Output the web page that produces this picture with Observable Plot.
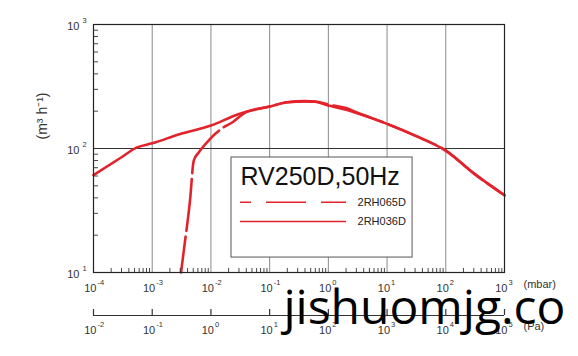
<!DOCTYPE html>
<html><head><meta charset="utf-8">
<script src="https://cdn.jsdelivr.net/npm/d3@7"></script>
<script src="https://cdn.jsdelivr.net/npm/@observablehq/plot@0.6"></script>
<style>body{margin:0;background:#fff}</style>
</head><body><div id="chart"></div>
<script>
// Pumping speed curves (mbar -> m3/h)
const solidP = [1e-4, 3e-4, 5.5e-4, 1e-3, 3e-3, 1e-2, 3e-2, 0.1, 0.2, 0.4, 0.6, 1, 2, 3, 10, 30, 100, 300, 1000];
const solidS = [61, 85, 102, 110, 131, 153, 190, 218, 236, 240, 238, 222, 205, 193, 158, 127, 96, 63, 42];
const dashP = [0.0031, 0.00345, 0.0044, 0.0051, 0.0062, 0.0098, 0.012, 0.016, 0.023, 0.04, 0.1, 0.2, 0.4, 0.6, 1, 2, 3, 10, 30, 100, 300, 1000];
const dashS = [10, 15, 38, 80, 93, 120, 132, 147, 162, 197, 218, 236, 241, 239, 226, 212, 196, 158, 127, 96, 63, 42];
const seriesNames = ["2RH065D", "2RH036D"];
const legendTitle = "RV250D,50Hz";
// Axis ticks (exponents)
const xExp = [-4, -3, -2, -1, 0, 1, 2, 3];
const yExp = [1, 2, 3];
const paExp = [-2, -1, 0, 1, 2, 3, 4, 5];
const xUnit = "(mbar)", paUnit = "(Pa)", yLabel = "(m³ h⁻¹)";
const watermark = "jishuomjg.co";
// Legend placement (data space)
const legendBox = {x1: 0.0224, x2: 27.2, y1: 13.2, y2: 84.6};
const legendLineX = [0.0319, 2.04];
const legendLabelX = 3.14;
const legendRowY = [36.9, 25.8];
const legendTitleY = 59.4;

const red = "#e3232c";
const solid = solidP.map((p, i) => ({p, s: solidS[i]}));
const dashed = dashP.map((p, i) => ({p, s: dashS[i]}));
const minorX = [];
for (let d = -4; d <= 2; d++) for (let k = 2; k <= 9; k++) minorX.push(k * 10 ** d);
const minorY = [];
for (let d = 1; d <= 2; d++) for (let k = 2; k <= 9; k++) minorY.push(k * 10 ** d);
const ink = "#333";

const chart = Plot.plot({
  width: 578, height: 356,
  marginLeft: 93, marginRight: 74, marginTop: 24, marginBottom: 84,
  x: {type: "log", domain: [1e-4, 1e3], axis: null},
  y: {type: "log", domain: [10, 1000], axis: null},
  style: {fontFamily: "'Liberation Sans', Arial, sans-serif", background: "#fff", overflow: "visible"},
  marks: [
    Plot.ruleX(xExp.slice(1, -1).map(e => 10 ** e), {stroke: "#8a8a8a", strokeWidth: 1}),
    Plot.ruleY([100], {stroke: "#333", strokeWidth: 1}),
    Plot.line(solid, {x: "p", y: "s", stroke: red, strokeWidth: 2.6, curve: "monotone-x"}),
    Plot.line(dashed, {x: "p", y: "s", stroke: red, strokeWidth: 2.6, curve: "monotone-x", strokeDasharray: "52,6", strokeDashoffset: 16}),
    // legend
    Plot.rect([legendBox], {x1: "x1", x2: "x2", y1: "y1", y2: "y2", fill: "#fff", stroke: "#555", strokeWidth: 1}),
    Plot.text([legendTitle], {x: legendLineX[0], y: legendTitleY, textAnchor: "start", fontSize: 25, fill: "#111"}),
    Plot.ruleY([legendRowY[0]], {x1: legendLineX[0], x2: legendLineX[1], stroke: red, strokeWidth: 1.5, strokeDasharray: "40,15", strokeDashoffset: 29}),
    Plot.ruleY([legendRowY[1]], {x1: legendLineX[0], x2: legendLineX[1], stroke: red, strokeWidth: 1.5}),
    Plot.text(seriesNames, {x: legendLabelX, y: (d, i) => legendRowY[i], textAnchor: "start", fontSize: 11, fill: "#222"}),
    Plot.frame({stroke: "#222", strokeWidth: 1.2}),
    // minor ticks
    Plot.ruleX(minorX, {x: d => d, y1: 10, y2: 10, insetTop: -4, stroke: ink, strokeWidth: 0.9}),
    Plot.ruleY(minorY, {y: d => d, x1: 1e-4, x2: 1e-4, insetRight: -5, stroke: ink, strokeWidth: 0.9}),
    // x (mbar) labels
    Plot.text(xExp, {x: e => 10 ** e, y: 10, text: () => "10", textAnchor: "end", dx: 3, dy: 15.5, fontSize: 11, fill: ink}),
    Plot.text(xExp, {x: e => 10 ** e, y: 10, text: e => String(e), textAnchor: "start", dx: 4, dy: 10.5, fontSize: 7.5, fill: ink}),
    Plot.text([xUnit], {frameAnchor: "bottom-right", textAnchor: "start", dx: 19, dy: 15.5, fontSize: 11, fill: ink}),
    // y labels
    Plot.text(yExp, {x: 1e-4, y: e => 10 ** e, text: () => "10", textAnchor: "end", dx: -14, dy: 1.5, fontSize: 11, fill: ink}),
    Plot.text(yExp, {x: 1e-4, y: e => 10 ** e, text: e => String(e), textAnchor: "start", dx: -11, dy: -3.5, fontSize: 7.5, fill: ink}),
    Plot.text([yLabel], {frameAnchor: "left", rotate: -90, dx: -51, dy: -9, fontSize: 14, fill: ink}),
    // Pa axis
    Plot.ruleY([10], {x1: 1e-4, x2: 1e3, dy: 43, stroke: ink, strokeWidth: 1.2}),
    Plot.ruleX(paExp, {x: e => 10 ** e / 100, y1: 10, y2: 10, insetTop: -6, dy: 43, stroke: ink, strokeWidth: 1.2}),
    Plot.text(paExp, {x: e => 10 ** e / 100, y: 10, text: () => "10", textAnchor: "end", dx: 3, dy: 57.5, fontSize: 11, fill: ink}),
    Plot.text(paExp, {x: e => 10 ** e / 100, y: 10, text: e => String(e), textAnchor: "start", dx: 4, dy: 52.5, fontSize: 7.5, fill: ink}),
    Plot.text([paUnit], {frameAnchor: "bottom-right", textAnchor: "start", dx: 19, dy: 57.5, fontSize: 11, fill: ink}),
    // watermark
    Plot.text([watermark], {frameAnchor: "bottom-left", textAnchor: "start", lineAnchor: "bottom", dx: 190, dy: 51.5, fontSize: 48, fill: "#000", fontFamily: "'Open Sans', sans-serif"})
  ]
});
document.getElementById("chart").append(chart);
</script>
</body></html>
